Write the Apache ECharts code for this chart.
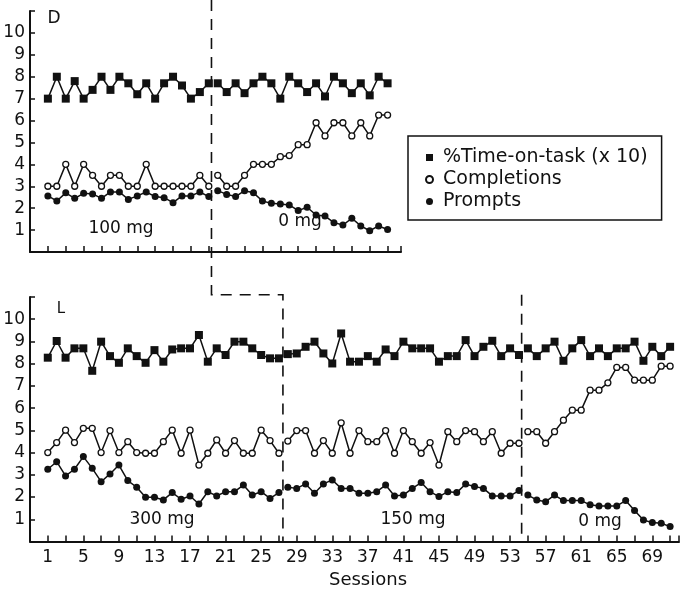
<!DOCTYPE html>
<html>
<head>
<meta charset="utf-8">
<script src="https://cdn.jsdelivr.net/npm/echarts@6/dist/echarts.min.js"></script>
<style>
  html, body { margin: 0; padding: 0; background: #fff; }
  #chart { width: 682px; height: 594px; }
</style>
</head>
<body>
<div id="chart"></div>
<script>
// measures
const measureNames = ['%Time-on-task (x 10)', 'Completions', 'Prompts']

// panel D: first session of each phase
const dStarts = [1, 20]
const dTime100 = [7.0, 8.0, 7.0, 7.8, 7.0, 7.4, 8.0, 7.4, 8.0, 7.7, 7.2, 7.7, 7.0, 7.7, 8.0, 7.6, 7.0, 7.3, 7.7]
const dTime0 = [7.7, 7.3, 7.7, 7.25, 7.7, 8.0, 7.7, 7.0, 8.0, 7.7, 7.3, 7.7, 7.1, 8.0, 7.7, 7.25, 7.7, 7.15, 8.0, 7.7]
const dComp100 = [3.0, 3.0, 4.0, 3.0, 4.0, 3.5, 3.0, 3.5, 3.5, 3.0, 3.0, 4.0, 3.0, 3.0, 3.0, 3.0, 3.0, 3.5, 3.0]
const dComp0 = [3.5, 3.0, 3.0, 3.5, 4.0, 4.0, 4.0, 4.35, 4.4, 4.9, 4.9, 5.9, 5.3, 5.9, 5.9, 5.3, 5.9, 5.3, 6.25, 6.25]
const dPrompt100 = [2.56, 2.33, 2.7, 2.45, 2.68, 2.65, 2.45, 2.74, 2.74, 2.4, 2.56, 2.74, 2.53, 2.48, 2.25, 2.56, 2.56, 2.74, 2.53]
const dPrompt0 = [2.8, 2.63, 2.53, 2.8, 2.7, 2.33, 2.22, 2.19, 2.15, 1.89, 2.04, 1.69, 1.64, 1.34, 1.23, 1.54, 1.19, 0.97, 1.19, 1.03]

// panel L
const lStarts = [1, 28, 55]
const lTime300 = [8.27, 9.02, 8.27, 8.69, 8.69, 7.68, 8.99, 8.34, 8.04, 8.69, 8.34, 8.04, 8.61, 8.09, 8.64, 8.69, 8.69, 9.29, 8.09, 8.69, 8.39, 8.99, 8.99, 8.69, 8.39, 8.24, 8.24]
const lTime150 = [8.43, 8.46, 8.76, 8.99, 8.46, 8.01, 9.36, 8.09, 8.09, 8.34, 8.09, 8.64, 8.34, 8.99, 8.69, 8.69, 8.69, 8.09, 8.34, 8.34, 9.06, 8.34, 8.76, 9.03, 8.34, 8.69, 8.39]
const lTime0 = [8.69, 8.34, 8.69, 8.99, 8.13, 8.69, 9.06, 8.34, 8.69, 8.34, 8.69, 8.69, 8.99, 8.13, 8.76, 8.34, 8.76]
const lComp300 = [4.0, 4.45, 5.01, 4.45, 5.09, 5.09, 4.0, 4.99, 4.0, 4.49, 4.0, 3.97, 3.97, 4.49, 5.01, 3.97, 5.01, 3.44, 3.97, 4.57, 3.97, 4.54, 3.97, 3.97, 5.01, 4.54, 3.97]
const lComp150 = [4.52, 4.99, 4.99, 3.97, 4.54, 3.97, 5.34, 3.97, 4.99, 4.49, 4.49, 4.99, 3.97, 4.99, 4.49, 3.97, 4.45, 3.44, 4.94, 4.49, 4.99, 4.94, 4.49, 4.94, 3.97, 4.42, 4.42]
const lComp0 = [4.94, 4.94, 4.42, 4.94, 5.46, 5.91, 5.91, 6.81, 6.81, 7.14, 7.83, 7.83, 7.26, 7.26, 7.26, 7.89, 7.89]
const lPrompt300 = [3.25, 3.59, 2.95, 3.25, 3.82, 3.29, 2.69, 3.04, 3.44, 2.74, 2.44, 1.99, 1.99, 1.87, 2.2, 1.9, 2.05, 1.69, 2.24, 2.05, 2.24, 2.24, 2.54, 2.09, 2.24, 1.94, 2.2]
const lPrompt150 = [2.44, 2.39, 2.59, 2.17, 2.59, 2.77, 2.39, 2.39, 2.17, 2.17, 2.24, 2.54, 2.05, 2.09, 2.39, 2.65, 2.24, 2.02, 2.24, 2.2, 2.59, 2.47, 2.39, 2.05, 2.05, 2.05, 2.29]
const lPrompt0 = [2.09, 1.87, 1.79, 2.09, 1.84, 1.84, 1.84, 1.65, 1.6, 1.6, 1.6, 1.84, 1.39, 0.97, 0.85, 0.82, 0.67]

// phase boundaries (session units)
const dSplit = 19.3
const lSplits = [27.45, 54.3]

const INK = '#111'
const FONT = 'DejaVu Sans'

const measureStyle = [
  { symbol: 'rect', symbolSize: 8, itemStyle: { color: INK } },
  { symbol: 'circle', symbolSize: 6, itemStyle: { color: '#fff', borderColor: INK, borderWidth: 1.3 } },
  { symbol: 'circle', symbolSize: 7, itemStyle: { color: INK } }
]

function buildSeries(grid, starts, phases) {
  const out = []
  phases.forEach((measures, k) => {
    measures.forEach((vals, m) => {
      out.push({
        type: 'line',
        name: measureNames[m],
        xAxisIndex: grid,
        yAxisIndex: grid,
        data: vals.map((v, i) => [starts[k] + i, v]),
        symbol: measureStyle[m].symbol,
        symbolSize: measureStyle[m].symbolSize,
        itemStyle: measureStyle[m].itemStyle,
        lineStyle: { color: INK, width: 1.5 },
        animation: false
      })
    })
  })
  return out
}

const series = [
  ...buildSeries(0, dStarts, [
    [dTime100, dComp100, dPrompt100],
    [dTime0, dComp0, dPrompt0]
  ]),
  ...buildSeries(1, lStarts, [
    [lTime300, lComp300, lPrompt300],
    [lTime150, lComp150, lPrompt150],
    [lTime0, lComp0, lPrompt0]
  ])
]

const axisLine = { show: true, onZero: false, lineStyle: { color: INK, width: 2 } }
const labelStyle = { color: INK, fontFamily: FONT, fontSize: 17 }

const xAxis = (grid, max, showLabels) => ({
  gridIndex: grid,
  type: 'value',
  min: -1,
  max: max,
  interval: 2,
  axisLine: axisLine,
  axisTick: { show: true, inside: true, length: 6, lineStyle: { color: INK, width: 1.5 } },
  axisLabel: {
    show: showLabels,
    ...labelStyle,
    margin: 8,
    formatter: v => (v >= 1 && v <= 69 && (v - 1) % 4 === 0 ? String(v) : '')
  },
  splitLine: { show: false }
})

const yAxis = grid => ({
  gridIndex: grid,
  type: 'value',
  min: 0,
  max: 11,
  interval: 1,
  axisLine: axisLine,
  axisTick: { show: true, inside: true, length: 5, lineStyle: { color: INK, width: 1.5 } },
  axisLabel: {
    ...labelStyle,
    margin: 5,
    formatter: v => (v >= 1 && v <= 10 ? String(v) : '')
  },
  splitLine: { show: false }
})

const chart = echarts.init(document.getElementById('chart'))

chart.setOption({
  animation: false,
  backgroundColor: '#fff',
  grid: [
    { left: 30, top: 11, width: 371, height: 241 },
    { left: 30, top: 297, width: 652, height: 244.5 }
  ],
  xAxis: [xAxis(0, 40.5, false), xAxis(1, 72, true)],
  yAxis: [yAxis(0), yAxis(1)],
  legend: {
    left: 408,
    top: 136,
    orient: 'vertical',
    data: [
      { name: measureNames[0], icon: 'rect' },
      { name: measureNames[1], icon: 'circle' },
      { name: measureNames[2], icon: 'circle' }
    ],
    itemWidth: 7,
    itemHeight: 7,
    itemGap: 3,
    padding: [12, 14, 9, 17],
    borderColor: INK,
    borderWidth: 1.5,
    selectedMode: false,
    textStyle: { color: INK, fontFamily: FONT, fontSize: 19, padding: [0, 0, 0, 5] }
  },
  series: series
})

// dashed phase lines and text, placed through the axes
const p0 = (x, y) => chart.convertToPixel({ gridIndex: 0 }, [x, y])
const p1 = (x, y) => chart.convertToPixel({ gridIndex: 1 }, [x, y])
const dash = { stroke: INK, lineWidth: 1.6, lineDash: [11, 8], fill: null }

const a = p0(dSplit, 0)
const b = p1(lSplits[0], 11.1)
const c = p1(lSplits[0], 0)
const e = p1(lSplits[1], 11.1)
const f = p1(lSplits[1], 0)

const txt = (x, y, text, size) => ({
  type: 'text',
  x: x,
  y: y,
  silent: true,
  style: { text: text, fill: INK, font: size + 'px "' + FONT + '"', align: 'center', verticalAlign: 'middle' }
})

chart.setOption({
  graphic: [
    { type: 'polyline', silent: true, shape: { points: [[a[0], 0], [a[0], b[1]], [b[0], b[1]], [c[0], c[1]]] }, style: dash },
    { type: 'polyline', silent: true, shape: { points: [[e[0], e[1]], [f[0], f[1]]] }, style: dash },
    txt(54, 19, 'D', 17),
    txt(61, 309, 'L', 15),
    txt(121, 229, '100 mg', 17),
    txt(300, 222, '0 mg', 17),
    txt(162, 520, '300 mg', 17),
    txt(413, 520, '150 mg', 17),
    txt(600, 522, '0 mg', 17),
    txt(368, 580, 'Sessions', 18)
  ]
})

window.addEventListener('resize', () => chart.resize())
</script>
</body>
</html>
